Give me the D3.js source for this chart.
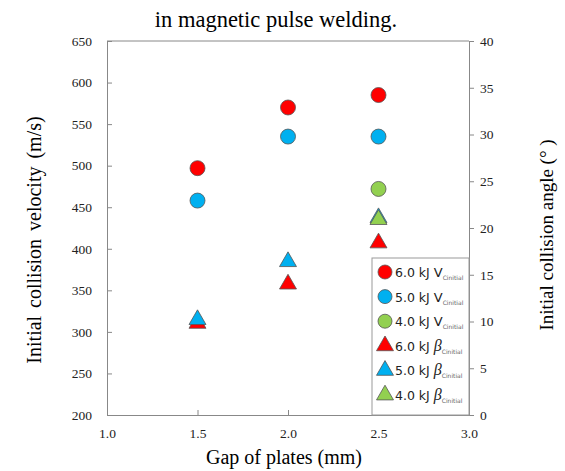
<!DOCTYPE html>
<html>
<head>
<meta charset="utf-8">
<script src="https://cdn.jsdelivr.net/npm/d3@7"></script>
<style>
  body { margin: 0; background: #fff; }
</style>
</head>
<body>
<script>
// gaps of plates (mm)
const gaps = [1.5, 2.0, 2.5];
// initial collision velocity (m/s)
const vel6 = [497, 570, 585];
const vel5 = [458, 535, 535];
const vel4 = [null, null, 472];
// initial collision angle (deg)
const ang6 = [9.8, 14.0, 18.4];
const ang5 = [10.2, 16.4, 21.1];
const ang4 = [null, null, 20.9];

const xTicks = [1.0, 1.5, 2.0, 2.5, 3.0];
const velTicks = [200, 250, 300, 350, 400, 450, 500, 550, 600, 650];
const angTicks = [0, 5, 10, 15, 20, 25, 30, 35, 40];

const RED = "#ff0000", BLUE = "#00b0f0", GREEN = "#92d050";
const SERIF = "'Liberation Serif', 'Times New Roman', serif";

let W = 565, H = 471;
let margin = {top: 41, right: 96, bottom: 56, left: 107};
let width = W - margin.left - margin.right;
let height = H - margin.top - margin.bottom;

let svg = d3.select("body").append("svg")
  .attr("width", W).attr("height", H);

let chart = svg.append("g")
  .attr("transform", "translate(" + margin.left + "," + margin.top + ")");

let xScale = d3.scaleLinear().domain([1.0, 3.0]).range([0, width]);
let velScale = d3.scaleLinear().domain([200, 650]).range([height, 0]);
let angScale = d3.scaleLinear().domain([0, 40]).range([height, 0]);

// title (partially cut in the original)
svg.append("text")
  .attr("x", 276).attr("y", 27)
  .attr("text-anchor", "middle")
  .attr("font-family", SERIF)
  .attr("font-size", 22.5)
  .text("in magnetic pulse welding.");

// top frame line
chart.append("line")
  .attr("x1", 0).attr("x2", width).attr("y1", 0).attr("y2", 0)
  .attr("stroke", "#888");

// axes
let xAxis = chart.append("g")
  .attr("transform", "translate(0," + height + ")")
  .call(d3.axisBottom(xScale).tickValues(xTicks).tickSize(-5).tickSizeOuter(0)
    .tickPadding(13).tickFormat(d3.format(".1f")));

let lAxis = chart.append("g")
  .call(d3.axisLeft(velScale).tickValues(velTicks).tickSize(-5).tickSizeOuter(0)
    .tickPadding(15));

let rAxis = chart.append("g")
  .attr("transform", "translate(" + width + ",0)")
  .call(d3.axisRight(angScale).tickValues(angTicks).tickSize(5).tickSizeOuter(0)
    .tickPadding(6));

[xAxis, lAxis, rAxis].forEach(function(a) {
  a.attr("font-family", SERIF).attr("font-size", 13.5);
  a.selectAll("path, line").attr("stroke", "#888");
  a.selectAll("text").attr("fill", "#222");
});

// axis labels
svg.append("text")
  .attr("x", 284).attr("y", 464)
  .attr("text-anchor", "middle")
  .attr("font-family", SERIF).attr("font-size", 20)
  .text("Gap of plates (mm)");

svg.append("text")
  .attr("transform", "translate(41,240) rotate(-90)")
  .attr("text-anchor", "middle")
  .attr("font-family", SERIF).attr("font-size", 20)
  .attr("word-spacing", 3)
  .text("Initial collision velocity (m/s)");

svg.append("text")
  .attr("transform", "translate(553,235) rotate(-90)")
  .attr("text-anchor", "middle")
  .attr("font-family", SERIF).attr("font-size", 19)
  .text("Initial collision angle (° )");

let tri = d3.symbol().type(d3.symbolTriangle).size(125);

function circles(vals, color) {
  chart.selectAll(null)
    .data(gaps.map((g, i) => ({x: g, y: vals[i]})).filter(d => d.y != null))
    .enter().append("circle")
      .attr("r", 7.5)
      .attr("cx", d => xScale(d.x))
      .attr("cy", d => velScale(d.y))
      .attr("fill", color).attr("stroke", "#555").attr("stroke-width", 0.8);
}

function triangles(vals, color) {
  chart.selectAll(null)
    .data(gaps.map((g, i) => ({x: g, y: vals[i]})).filter(d => d.y != null))
    .enter().append("path")
      .attr("d", tri)
      .attr("transform", d => "translate(" + xScale(d.x) + "," + angScale(d.y) + ")")
      .attr("fill", color).attr("stroke", "#555").attr("stroke-width", 0.8);
}

circles(vel6, RED);
circles(vel5, BLUE);
circles(vel4, GREEN);
triangles(ang6, RED);
triangles(ang5, BLUE);
triangles(ang4, GREEN);

// legend
let legendItems = [
  {kj: "6.0 kJ", sym: "V", shape: "c", color: RED},
  {kj: "5.0 kJ", sym: "V", shape: "c", color: BLUE},
  {kj: "4.0 kJ", sym: "V", shape: "c", color: GREEN},
  {kj: "6.0 kJ", sym: "β", shape: "t", color: RED},
  {kj: "5.0 kJ", sym: "β", shape: "t", color: BLUE},
  {kj: "4.0 kJ", sym: "β", shape: "t", color: GREEN}
];

let lg = chart.append("g")
  .attr("transform", "translate(" + (width - 97) + "," + (height - 157) + ")");

lg.append("rect")
  .attr("width", 97).attr("height", 157)
  .attr("fill", "#fff").attr("stroke", "#999");

let rows = lg.selectAll("g.row")
  .data(legendItems)
  .enter().append("g")
    .attr("class", "row")
    .attr("transform", (d, i) => "translate(13," + (14 + i * 24.6) + ")");

rows.filter(d => d.shape === "c").append("circle")
  .attr("r", 7).attr("fill", d => d.color).attr("stroke", "#555").attr("stroke-width", 0.8);

rows.filter(d => d.shape === "t").append("path")
  .attr("d", tri).attr("fill", d => d.color).attr("stroke", "#555").attr("stroke-width", 0.8);

let lt = rows.append("text")
  .attr("x", 10).attr("y", 5)
  .attr("font-family", "'DejaVu Sans', sans-serif").attr("font-size", 12.5)
  .attr("fill", "#222");

lt.append("tspan").text(d => d.kj + " ");
lt.append("tspan")
  .attr("font-family", d => d.sym === "β" ? SERIF : "'DejaVu Sans', sans-serif")
  .attr("font-style", d => d.sym === "β" ? "italic" : "normal")
  .attr("font-size", d => d.sym === "β" ? 16 : 13)
  .text(d => d.sym);
lt.append("tspan")
  .attr("dy", 3)
  .attr("font-size", 6).attr("fill", "#666")
  .text("Cinitial");
</script>
</body>
</html>
